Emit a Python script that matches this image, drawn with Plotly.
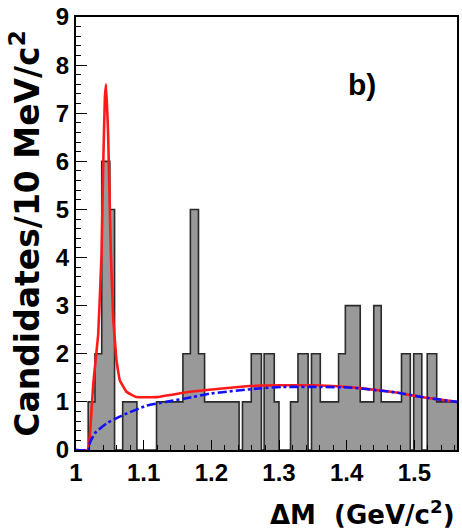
import plotly.graph_objects as go

# Histogram (bin edges in GeV/c^2 and candidates per bin)
hist_edges = [1.000, 1.018, 1.028, 1.038, 1.050, 1.057, 1.069, 1.090, 1.119, 1.158,
              1.169, 1.181, 1.190, 1.241, 1.246, 1.259, 1.274, 1.278, 1.293, 1.300,
              1.317, 1.328, 1.343, 1.348, 1.361, 1.388, 1.398, 1.420, 1.440, 1.451,
              1.481, 1.494, 1.499, 1.511, 1.519, 1.533, 1.563]
hist_counts = [0, 1, 2, 6, 5, 0, 1, 0, 1, 2,
               5, 2, 1, 0, 1, 2, 0, 2, 1, 0,
               1, 2, 0, 2, 1, 2, 3, 1, 3, 1,
               2, 0, 2, 0, 2, 1]

# Total fit (red)
fit_x = [1.000, 1.018, 1.0205, 1.0255, 1.0328, 1.0378, 1.0402, 1.0426, 1.0445, 1.0475,
         1.050, 1.0515, 1.0549, 1.0598, 1.0647, 1.0745, 1.089, 1.119, 1.168, 1.256,
         1.304, 1.354, 1.403, 1.442, 1.476, 1.510, 1.563]
fit_y = [0.0, 0.0, 0.3, 1.38, 2.4, 4.1, 5.9, 7.3, 7.6, 6.55,
         5.0, 4.1, 2.76, 1.86, 1.45, 1.21, 1.10, 1.10, 1.21, 1.33,
         1.345, 1.345, 1.31, 1.25, 1.19, 1.10, 1.0]

# Background (blue dashed)
bkg_x = [1.000, 1.018, 1.0205, 1.028, 1.045, 1.067, 1.104, 1.133, 1.1725, 1.197,
         1.270, 1.305, 1.403, 1.476, 1.511, 1.563]
bkg_y = [0.0, 0.0, 0.15, 0.35, 0.55, 0.71, 0.92, 1.0, 1.10, 1.17,
         1.28, 1.31, 1.30, 1.19, 1.10, 1.0]

x_range = [1.0, 1.563]
y_range = [0, 9]
panel_label = "b)"
x_title = "ΔM  (GeV/c<sup>2</sup>)"
y_title = "Candidates/10 MeV/c<sup>2</sup>"

fig = go.Figure()
fig.add_trace(go.Scatter(
    x=hist_edges, y=hist_counts + [hist_counts[-1]],
    mode="lines", line=dict(shape="hv", color="#2a2a2a", width=1.6),
    fill="tozeroy", fillcolor="#999999", showlegend=False, hoverinfo="skip"))
fig.add_trace(go.Scatter(
    x=fit_x, y=fit_y, mode="lines", line=dict(color="#ff1a1a", width=2.6, shape="spline", smoothing=0.25),
    showlegend=False))
fig.add_trace(go.Scatter(
    x=bkg_x, y=bkg_y, mode="lines", line=dict(color="#1010ff", width=2.6, dash="dashdot", shape="spline", smoothing=0.5),
    showlegend=False))

tick_font = dict(family="Liberation Sans, Arial", size=24, color="black", weight="bold")
fig.update_layout(
    width=462, height=531,
    margin=dict(l=76, r=3, t=15, b=81),
    plot_bgcolor="white", paper_bgcolor="white",
    xaxis=dict(range=x_range, dtick=0.1, tick0=1.0, ticks="inside", ticklen=10, tickwidth=1,
               tickcolor="black", showline=True, mirror=True, linecolor="black", linewidth=2,
               showgrid=False, zeroline=False, tickfont=tick_font,
               minor=dict(ticks="inside", dtick=0.02, ticklen=5, tickcolor="black", showgrid=False)),
    yaxis=dict(range=y_range, dtick=1, ticks="inside", ticklen=11, tickwidth=1, tickcolor="black",
               showline=True, mirror=True, linecolor="black", linewidth=2,
               showgrid=False, zeroline=False, tickfont=tick_font,
               minor=dict(ticks="inside", dtick=0.2, ticklen=5, tickcolor="black", showgrid=False),
               title=dict(text=y_title, font=dict(family="DejaVu Sans", size=33, color="black", weight="bold"),
                          standoff=6)),
    annotations=[
        dict(text="<b>" + panel_label + "</b>", x=0.75, y=0.845, xref="paper", yref="paper",
             showarrow=False, xanchor="center", yanchor="middle",
             font=dict(family="Liberation Sans, Arial", size=30, color="black")),
        dict(text="<b>" + x_title + "</b>", x=1.0, y=-0.145, xref="paper", yref="paper",
             showarrow=False, xanchor="right", yanchor="middle",
             font=dict(family="DejaVu Sans", size=26, color="black")),
    ],
)
fig.write_html("out.html")
